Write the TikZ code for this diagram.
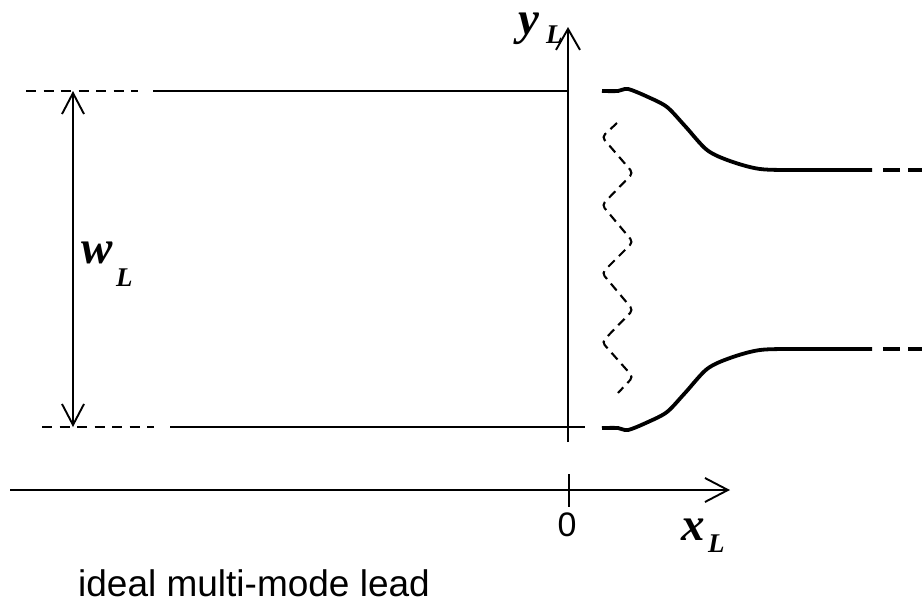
\documentclass[tikz,border=0pt]{standalone}
\usepackage{fontspec}
\setmainfont{Liberation Serif}
\newfontfamily\arialf{Liberation Sans}
\usetikzlibrary{arrows.meta}
\tikzset{
  thinline/.style={line width=1.9pt},
  thickline/.style={line width=3.8pt},
  leaddash/.style={line width=1.9pt, dash pattern=on 10pt off 7.5pt},
  rightdash/.style={line width=3.8pt, dash pattern=on 17pt off 8pt},
  zig/.style={line width=2.1pt, dash pattern=on 9pt off 6pt, rounded corners=4pt},
  barb/.style={-{Straight Barb[length=21pt,width=24pt,line width=1.9pt]}},
  lab/.style={font=\fontsize{47}{50}\selectfont\bfseries\itshape, inner sep=0pt, anchor=base west, text height=0.46em, text depth=0.2em},
  sublab/.style={font=\fontsize{27}{30}\selectfont\bfseries\itshape, inner sep=0pt, anchor=base west},
  sans/.style={font=\fontsize{34}{38}\selectfont\arialf, inner sep=0pt}
}
\begin{document}
\begin{tikzpicture}[x=1pt,y=-1pt]
\useasboundingbox (0,0) rectangle (922,603);
% coordinates
\coordinate (tl0) at (26,91);
\coordinate (tl1) at (138,91);
\coordinate (tl2) at (153,91);
\coordinate (tl3) at (568,91);
\coordinate (bl0) at (42,427);
\coordinate (bl1) at (154,427);
\coordinate (bl2) at (170,427);
\coordinate (bl3) at (585,427);
\coordinate (ybot) at (568,442);
\coordinate (ytop) at (568,27);
\coordinate (xl) at (10,490);
\coordinate (xr) at (730,490);
\coordinate (tk0) at (569,474);
\coordinate (tk1) at (569,507);
\coordinate (wt) at (73,91);
\coordinate (wb) at (73,427);
% lead lines
\draw[leaddash] (tl0) -- (tl1);
\draw[thinline] (tl2) -- (tl3);
\draw[leaddash] (bl0) -- (bl1);
\draw[thinline] (bl2) -- (bl3);
% width arrow
\draw[thinline, {Straight Barb[length=21pt,width=22pt,line width=1.9pt]}-{Straight Barb[length=21pt,width=22pt,line width=1.9pt]}] (wt) -- (wb);
% axes
\draw[thinline, barb] (ybot) -- (ytop);
\draw[thinline, -{Straight Barb[length=23pt,width=24pt,line width=1.9pt]}] (xl) -- (xr);
\draw[thinline] (tk0) -- (tk1);
% scattering region boundary
\draw[thickline, line join=round] plot[smooth, tension=0.5] coordinates {(602,91) (618,91) (628,89) (648,97) (667,107) (685,126) (707,150) (730,161) (760,169) (800,170) (872,170)};
\draw[thickline, line join=round] plot[smooth, tension=0.5] coordinates {(602,428) (618,428) (628,430) (648,422) (667,412) (685,393) (707,369) (730,358) (760,350) (800,349) (872,349)};
\coordinate (rt0) at (883,170);
\coordinate (rt1) at (922,170);
\coordinate (rb0) at (883,349);
\coordinate (rb1) at (922,349);
\draw[rightdash] (rt0) -- (rt1);
\draw[rightdash] (rb0) -- (rb1);
% zigzag
\draw[zig] (617,123) -- (602,137) -- (633,173) -- (602,205) -- (633,242) -- (602,273) -- (633,310) -- (602,342) -- (633,377) -- (618,393);
% labels
\node[lab] (ylab) at (518,34) {y};
\node[sublab] (ylabs) at (546,43) {L};
\node[lab] (wlab) at (81,263) {w};
\node[sublab] (wlabs) at (116,286) {L};
\node[lab] (xlab) at (681,540) {x};
\node[sublab] (xlabs) at (708,552) {L};
\node[sans] (zero) at (567,525) {0};
\node[font=\fontsize{37}{40}\selectfont\arialf, inner sep=0pt, anchor=base west, text depth=0pt] (cap) at (78,596) {ideal multi-mode lead};
\end{tikzpicture}
\end{document}
